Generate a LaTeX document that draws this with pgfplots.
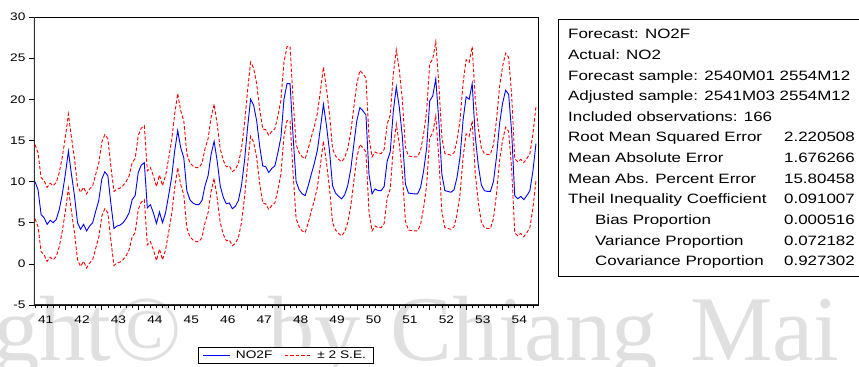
\documentclass[border=0pt]{standalone}
\usepackage{pgfplots}
\pgfplotsset{compat=1.18}
\usepackage{pgfplotstable}
\usepackage{fontspec}
\setmainfont{Liberation Sans}[FakeStretch=1.25]
\newfontfamily\wmfont{Liberation Serif}

\pgfplotstableread{
i f u l
0 10.0 14.5 5.5
1 9.0 13.5 4.5
2 6.0 10.5 1.5
3 5.6 10.1 1.1
4 4.8 9.3 0.3
5 5.3 9.8 0.8
6 5.0 9.5 0.5
7 5.4 9.9 0.9
8 6.6 11.1 2.1
9 8.5 13.0 4.0
10 10.9 15.4 6.4
11 13.7 18.2 9.2
12 10.9 15.4 6.4
13 8.3 12.8 3.8
14 5.0 9.5 0.5
15 4.2 8.7 -0.3
16 4.8 9.3 0.3
17 4.0 8.5 -0.5
18 4.6 9.1 0.1
19 5.0 9.5 0.5
20 6.4 10.9 1.9
21 7.7 12.2 3.2
22 10.3 14.8 5.8
23 11.2 15.7 6.7
24 10.7 15.2 6.2
25 7.3 11.8 2.8
26 4.3 8.8 -0.2
27 4.6 9.1 0.1
28 4.7 9.2 0.2
29 5.0 9.5 0.5
30 5.5 10.0 1.0
31 6.2 10.7 1.7
32 7.8 12.3 3.3
33 8.3 12.8 3.8
34 11.1 15.6 6.6
35 12.0 16.5 7.5
36 12.3 16.8 7.8
37 6.8 11.3 2.3
38 7.2 11.7 2.7
39 6.2 10.7 1.7
40 4.9 9.4 0.4
41 6.3 10.8 1.8
42 5.0 9.5 0.5
43 6.2 10.7 1.7
44 8.3 12.8 3.8
45 10.5 15.0 6.0
46 13.7 18.2 9.2
47 16.2 20.7 11.7
48 14.1 18.6 9.6
49 12.9 17.4 8.4
50 8.9 13.4 4.4
51 7.8 12.3 3.3
52 7.4 11.9 2.9
53 7.2 11.7 2.7
54 7.2 11.7 2.7
55 7.7 12.2 3.2
56 9.5 14.0 5.0
57 10.7 15.2 6.2
58 13.3 17.8 8.8
59 14.9 19.4 10.4
60 12.5 17.0 8.0
61 9.5 14.0 5.0
62 8.1 12.6 3.6
63 7.3 11.8 2.8
64 7.4 11.9 2.9
65 6.7 11.2 2.2
66 7.0 11.5 2.5
67 7.7 12.2 3.2
68 9.5 14.0 5.0
69 12.5 17.0 8.0
70 16.5 21.0 12.0
71 20.0 24.5 15.5
72 19.3 23.8 14.8
73 17.4 21.9 12.9
74 14.3 18.8 9.8
75 11.9 16.4 7.4
76 11.8 16.3 7.3
77 11.1 15.6 6.6
78 11.6 16.1 7.1
79 11.9 16.4 7.4
80 13.5 18.0 9.0
81 15.4 19.9 10.9
82 20.0 24.5 15.5
83 21.9 26.4 17.4
84 21.9 26.4 17.4
85 15.5 20.0 11.0
86 10.0 14.5 5.5
87 9.0 13.5 4.5
88 8.5 13.0 4.0
89 8.3 12.8 3.8
90 9.5 14.0 5.0
91 10.9 15.4 6.4
92 12.2 16.7 7.7
93 13.8 18.3 9.3
94 16.5 21.0 12.0
95 19.4 23.9 14.9
96 16.8 21.3 12.3
97 13.7 18.2 9.2
98 9.5 14.0 5.0
99 8.6 13.1 4.1
100 8.2 12.7 3.7
101 7.9 12.4 3.4
102 8.4 12.9 3.9
103 9.5 14.0 5.0
104 11.5 16.0 7.0
105 14.5 19.0 10.0
106 17.4 21.9 12.9
107 19.0 23.5 14.5
108 18.6 23.1 14.1
109 18.1 22.6 13.6
110 10.9 15.4 6.4
111 8.5 13.0 4.0
112 9.1 13.6 4.6
113 8.9 13.4 4.4
114 8.9 13.4 4.4
115 9.4 13.9 4.9
116 12.5 17.0 8.0
117 13.6 18.1 9.1
118 18.5 23.0 14.0
119 21.5 26.0 17.0
120 19.0 23.5 14.5
121 15.4 19.9 10.9
122 9.7 14.2 5.2
123 8.6 13.1 4.1
124 8.55 13.05 4.05
125 8.5 13.0 4.0
126 8.5 13.0 4.0
127 9.3 13.8 4.8
128 11.3 15.8 6.8
129 14.1 18.6 9.6
130 19.8 24.3 15.3
131 20.4 24.9 15.9
132 22.5 27.0 18.0
133 17.4 21.9 12.9
134 10.9 15.4 6.4
135 8.9 13.4 4.4
136 8.8 13.3 4.3
137 8.7 13.2 4.2
138 9.0 13.5 4.5
139 10.5 15.0 6.0
140 13.0 17.5 8.5
141 17.5 22.0 13.0
142 20.3 24.8 15.8
143 20.0 24.5 15.5
144 21.9 26.4 17.4
145 15.5 20.0 11.0
146 12.0 16.5 7.5
147 9.6 14.1 5.1
148 8.9 13.4 4.4
149 8.8 13.3 4.3
150 8.8 13.3 4.3
151 10.0 14.5 5.5
152 13.0 17.5 8.5
153 17.0 21.5 12.5
154 19.5 24.0 15.0
155 21.1 25.6 16.6
156 20.6 25.1 16.1
157 16.0 20.5 11.5
158 8.3 12.8 3.8
159 7.9 12.4 3.4
160 8.2 12.7 3.7
161 7.8 12.3 3.3
162 8.3 12.8 3.8
163 8.9 13.4 4.4
164 11.3 15.8 6.8
165 14.6 19.1 10.1
}\fc

\begin{document}
\begin{tikzpicture}
\path[use as bounding box] (0bp,0bp) rectangle (859bp,367bp);
% watermark (background)
\begin{scope}[every node/.style={inner sep=0, text=black!12, font=\wmfont\fontsize{93}{93}\selectfont}]
\node[anchor=base east] at (182bp,7bp) {Copyright\textcopyright};
\node[anchor=base west] at (268bp,7bp) {by};
\node[anchor=base west] at (390bp,7bp) {Chiang};
\node[anchor=base west] at (690bp,7bp) {Mai};
\end{scope}
\begin{axis}[
  at={(34bp,62bp)}, anchor=south west,
  scale only axis, width=504bp, height=288bp,
  xmin=-0.33, xmax=165.67, ymin=-5, ymax=30,
  axis line style={line width=0.6bp},
  tick align=outside,
  xtick pos=bottom, ytick pos=left,
  major tick length=5bp, minor tick length=3bp,
  tick style={line width=0.6bp, black},
  ytick={-5,0,5,10,15,20,25,30},
  yticklabels={-5,0,5,10,15,20,25,30},
  xtick={10,22,34,46,58,70,82,94,106,118,130,142,154},
  xticklabels={},
  minor xtick={0,2,4,6,8,12,14,16,18,20,24,26,28,30,32,36,38,40,42,44,48,50,52,54,56,60,62,64,66,68,72,74,76,78,80,84,86,88,90,92,96,98,100,102,104,108,110,112,114,116,120,122,124,126,128,132,134,136,138,140,144,146,148,150,152,156,158,160,162,164},
  extra x ticks={3.5,15.5,27.5,39.5,51.5,63.5,75.5,87.5,99.5,111.5,123.5,135.5,147.5,159.5},
  extra x tick labels={41,42,43,44,45,46,47,48,49,50,51,52,53,54},
  extra x tick style={tick style={draw=none}},
  ticklabel style={font=\fontsize{11}{13}\selectfont},
  xticklabel style={yshift=-2bp},
  legend columns=2,
  legend style={at={(0.499,-0.1458)}, anchor=north, draw=black, line width=0.6bp,
    font=\fontsize{11}{13}\selectfont, inner xsep=5bp, inner ysep=1.5bp,
    /tikz/every odd column/.append style={column sep=3bp},
    /tikz/every even column/.append style={column sep=10bp}},
  legend image code/.code={\draw[#1] (0bp,0bp) -- (27bp,0bp);},
]
\addplot[blue, line width=0.9bp] table[x=i, y=f] {\fc};
\addlegendentry{NO2F}
\addplot[red, line width=0.9bp, dash pattern=on 3.5bp off 2bp] table[x=i, y=u] {\fc};
\addlegendentry{± 2 S.E.}
\addplot[red, line width=0.9bp, dash pattern=on 3.5bp off 2bp, forget plot] table[x=i, y=l] {\fc};
\draw[line width=1.5bp, black!80] (rel axis cs:0,1) -- (rel axis cs:0,0) -- (rel axis cs:1,0);
\end{axis}
% statistics box
\begin{scope}[x=1bp,y=1bp]
\draw[line width=0.6bp] (558,91) rectangle (875,348);
\begin{scope}[every node/.style={inner sep=0, font=\fontsize{13.6}{16}\selectfont}]
\node[anchor=base west] at (568,328.3) {Forecast: NO2F};
\node[anchor=base west] at (568,307.7) {Actual: NO2};
\node[anchor=base west] at (568,287.0) {Forecast sample: 2540M01 2554M12};
\node[anchor=base west] at (568,266.4) {Adjusted sample: 2541M03 2554M12};
\node[anchor=base west] at (568,245.7) {Included observations: 166};
\node[anchor=base west] at (568,225.1) {Root Mean Squared Error};
\node[anchor=base east] at (855,225.1) {2.220508};
\node[anchor=base west] at (568,204.5) {Mean Absolute Error};
\node[anchor=base east] at (855,204.5) {1.676266};
\node[anchor=base west] at (568,183.8) {Mean Abs. Percent Error};
\node[anchor=base east] at (855,183.8) {15.80458};
\node[anchor=base west] at (568,163.2) {Theil Inequality Coefficient};
\node[anchor=base east] at (855,163.2) {0.091007};
\node[anchor=base west] at (595,142.6) {Bias Proportion};
\node[anchor=base east] at (855,142.6) {0.000516};
\node[anchor=base west] at (595,121.9) {Variance Proportion};
\node[anchor=base east] at (855,121.9) {0.072182};
\node[anchor=base west] at (595,101.3) {Covariance Proportion};
\node[anchor=base east] at (855,101.3) {0.927302};
\end{scope}
\end{scope}
\end{tikzpicture}
\end{document}
